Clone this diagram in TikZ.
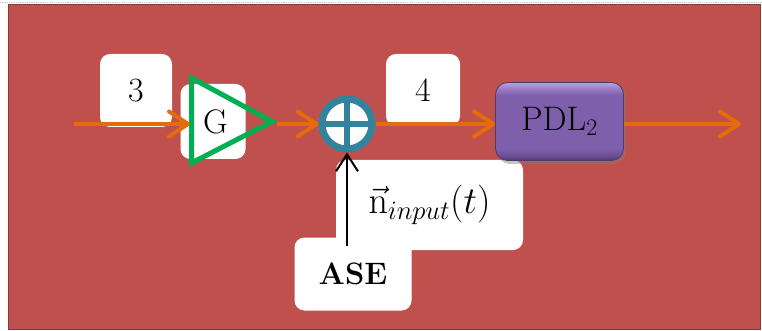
\RequirePackage{fix-cm}
\documentclass[tikz,border=0pt]{standalone}
\usetikzlibrary{arrows.meta,shadows}
\definecolor{bgred}{HTML}{C0504D}
\definecolor{bgedge}{HTML}{8C3836}
\definecolor{flowor}{HTML}{E46C0A}
\definecolor{ampgreen}{HTML}{00B050}
\definecolor{sumteal}{HTML}{31849B}
\definecolor{pdlhigh}{HTML}{B8A2DE}
\definecolor{pdlglow}{HTML}{987CC6}
\definecolor{pdlmid}{HTML}{7E5FAC}
\definecolor{pdllow}{HTML}{6B4F96}
\definecolor{pdlbot}{HTML}{4E3970}
\definecolor{pdledge}{HTML}{4F3B6B}
% bevelled purple fill: thin light band at the top, darker rim at the bottom
\pgfdeclareverticalshading{pdlshade}{100bp}{
  color(0bp)=(pdlbot); color(25bp)=(pdlbot); color(28bp)=(pdllow);
  color(33bp)=(pdlmid); color(67bp)=(pdlmid); color(71bp)=(pdlglow);
  color(75bp)=(pdlhigh); color(100bp)=(pdlhigh)}
\begin{document}
\begin{tikzpicture}[x=1pt,y=-1pt,
  font=\fontsize{34}{40}\selectfont,
  labelbox/.style={fill=white, rounded corners=10pt, inner sep=0pt},
  flow/.style={draw=flowor, line width=4pt,
    -{Straight Barb[length=19pt,width=25pt,line width=4pt,round]}},
  noise/.style={draw=black, line width=2pt,
    -{Straight Barb[length=17pt,width=22pt,line width=2pt]}},
  amp/.style={draw=ampgreen, line width=5pt},
  pdlbox/.style={draw=pdledge, line width=0.8pt, rounded corners=12pt,
    shading=pdlshade, minimum width=128pt, minimum height=78pt, inner sep=0pt,
    drop shadow={shadow xshift=2pt, shadow yshift=-3.5pt, opacity=0.45}},
  sumnode/.style={circle, draw=sumteal, line width=7pt, fill=white,
    minimum size=50pt, inner sep=0pt,
    path picture={\draw[sumteal, line width=6pt]
      (path picture bounding box.north) -- (path picture bounding box.south)
      (path picture bounding box.west) -- (path picture bounding box.east);}}]

% canvas
\useasboundingbox (0,0) rectangle (762,331);
\fill[white] (0,0) rectangle (762,331);
\draw[gray!45, densely dotted, line width=0.8pt] (0,2.5) -- (762,2.5);
\draw[fill=bgred, draw=bgedge, line width=1pt] (8.5,4.5) rectangle (760,329.5);

% white label boxes
\node[labelbox, minimum width=72pt, minimum height=73pt] (lbl3) at (136,90.5) {3};
\node[labelbox, minimum width=65pt, minimum height=75pt] (gbox) at (213,121.5) {\hspace{5pt}G};
\node[labelbox, minimum width=74pt, minimum height=72pt] (lbl4) at (423,90) {4};
\node[labelbox, minimum width=187pt, minimum height=90pt,
  font=\fontsize{38}{44}\selectfont] (nbox) at (429.5,205)
  {\raisebox{2pt}{$\vec{\mathrm{n}}_{input}(t)$}};
\node[labelbox, minimum width=117pt, minimum height=73pt,
  font=\fontsize{31}{36}\selectfont\bfseries] (ase) at (353,274) {ASE};

% amplifier triangle
\coordinate (gtl) at (191.5,78);
\coordinate (gbl) at (191.5,163);
\coordinate (gtip) at (272,121.5);
\draw[amp] (gtl) -- (gtip) -- (gbl) -- cycle;
\coordinate (gin) at (190,124);
\coordinate (gout) at (277,124);

% adder and PDL element
\node[sumnode] (sum) at (347,124) {};
\node[pdlbox] (pdl) at (559.5,121.5) {PDL$_2$};

% signal path
\coordinate (in) at (74,124);
\coordinate (out) at (741,124);
\coordinate (asetop) at (347,246);
\draw[flow] (in) -- (gin);
\draw[flow] (gout) -- (sum);
\draw[flow] (sum.east) -- (sum.east -| pdl.west);
\draw[flow] (sum.east -| pdl.east) -- (out);
\draw[noise] (asetop) -- (sum.south);
\end{tikzpicture}
\end{document}
